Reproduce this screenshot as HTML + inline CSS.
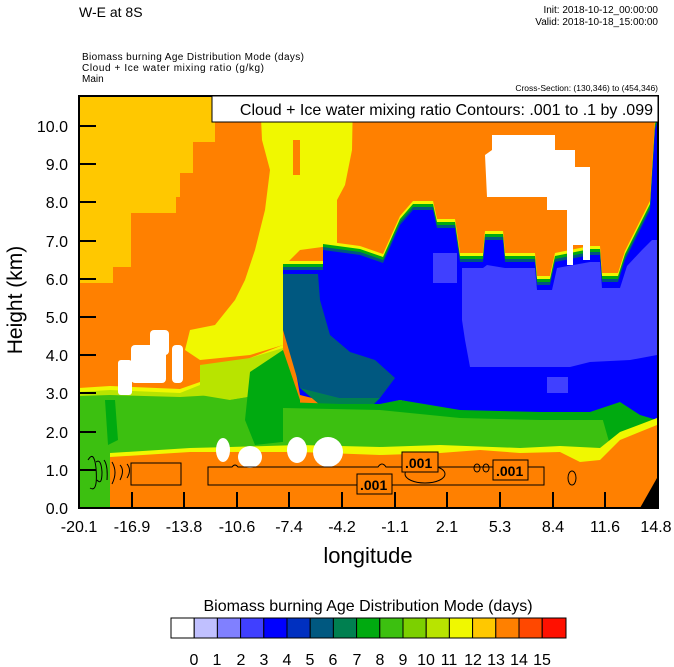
<!DOCTYPE html>
<html><head><meta charset="utf-8"><style>
body{margin:0;background:#fff;width:674px;height:667px;overflow:hidden}
svg{display:block}
text{font-family:"Liberation Sans",sans-serif;fill:#000}
</style></head><body>
<svg width="674" height="667" viewBox="0 0 674 667" xmlns="http://www.w3.org/2000/svg">
<defs><clipPath id="c"><rect x="79" y="96" width="579" height="412"/></clipPath></defs>
<g clip-path="url(#c)">
<rect x="79" y="96" width="579" height="412" fill="#FF8000"/>
<!-- gold top-left -->
<polygon fill="#FFC800" points="79,96 215,96 215,142 193,142 193,173 180,173 180,197 176,197 176,213 131,213 131,267 113,267 113,283 79,283"/>
<!-- yellow diagonal -->
<polygon fill="#F0F800" points="260,96 353,96 352,150 345,185 337,200 337,245 300,250 285,265 283,300 283,345 250,355 200,360 185,350 190,330 215,325 235,300 245,280 255,250 265,210 270,170 262,140"/>
<polygon fill="#FF8000" points="293,140 300,140 300,175 293,175"/>
<polygon fill="#FF8000" points="255,150 262,150 262,170 255,170"/>
<!-- green band (left/mid) with fringe -->
<polygon fill="#F0F800" points="79,388 110,386 180,389 200,382 230,375 245,360 283,345 283,460 79,460"/>
<polygon fill="#B8E400" points="79,392 110,390 180,393 200,385 230,378 250,362 283,350 283,460 79,460"/>
<polygon fill="#3CC010" points="79,396 110,395 180,397 215,395 240,392 255,385 283,380 283,460 79,460"/>
<polygon fill="#B8E400" points="200,365 250,358 283,348 285,380 260,395 230,400 200,395"/>
<polygon fill="#3CC010" points="230,400 260,395 283,385 283,460 230,460"/>
<polygon fill="#00AA10" points="250,372 283,350 300,400 300,440 255,445 245,420"/>
<!-- blue band with fringes -->
<polygon fill="#F0F800" transform="translate(0,-9)" points="283,300 283,270 323,270 323,250 360,255 383,263 400,225 413,210 433,210 437,228 455,228 460,262 483,262 485,240 503,240 505,262 535,262 537,285 550,285 555,262 590,255 600,255 602,282 618,282 625,260 630,250 650,210 655,130 658,120 658,430 640,420 620,405 590,415 540,415 460,412 400,400 380,405 340,405 300,395"/>
<polygon fill="#00AA10" transform="translate(0,-6)" points="283,300 283,270 323,270 323,250 360,255 383,263 400,225 413,210 433,210 437,228 455,228 460,262 483,262 485,240 503,240 505,262 535,262 537,285 550,285 555,262 590,255 600,255 602,282 618,282 625,260 630,250 650,210 655,130 658,120 658,430 640,420 620,405 590,415 540,415 460,412 400,400 380,405 340,405 300,395"/>
<polygon fill="#005880" transform="translate(0,-3)" points="283,300 283,270 323,270 323,250 360,255 383,263 400,225 413,210 433,210 437,228 455,228 460,262 483,262 485,240 503,240 505,262 535,262 537,285 550,285 555,262 590,255 600,255 602,282 618,282 625,260 630,250 650,210 655,130 658,120 658,430 640,420 620,405 590,415 540,415 460,412 400,400 380,405 340,405 300,395"/>
<polygon fill="#0000FF" points="283,300 283,270 323,270 323,250 360,255 383,263 400,225 413,210 433,210 437,228 455,228 460,262 483,262 485,240 503,240 505,262 535,262 537,285 550,285 555,262 590,255 600,255 602,282 618,282 625,260 630,250 650,210 655,130 658,120 658,430 640,420 620,405 590,415 540,415 460,412 400,400 380,405 340,405 300,395"/>
<!-- teal left part -->
<polygon fill="#005880" points="283,274 318,274 320,300 330,335 350,352 375,360 395,378 380,398 340,398 300,388 283,330"/>
<polygon fill="#008050" points="300,388 340,398 380,398 370,408 320,405"/>
<!-- medium blue -->
<polygon fill="#4040FF" points="462,268 483,268 487,265 505,268 535,268 537,290 552,290 557,268 590,262 600,262 602,288 620,288 627,266 642,250 652,240 657,240 657,355 630,360 590,362 570,367 505,367 470,367 465,340 462,320"/>
<polygon fill="#4040FF" points="433,253 457,253 457,283 433,283"/>
<polygon fill="#4040FF" points="547,377 568,377 568,393 547,393"/>
<!-- green under blue -->
<polygon fill="#00AA10" points="283,402 340,404 380,404 400,400 460,410 540,412 590,412 620,402 640,415 657,420 657,460 283,460"/>
<polygon fill="#3CC010" points="283,408 380,410 460,418 540,420 590,420 620,420 650,430 657,440 657,460 283,460"/>
<polygon fill="#00AA10" points="600,410 650,420 650,440 610,445"/>
<!-- left green column -->
<rect x="79" y="400" width="31" height="108" fill="#3CC010"/>
<polygon fill="#00AA10" points="105,400 115,400 118,440 108,445"/>
<!-- bottom orange band with fringe -->
<polygon fill="#F0F800" points="110,453 190,448 230,447 300,445 380,447 440,445 520,448 560,446 600,448 620,432 657,418 657,508 110,508"/>
<polygon fill="#FF8000" points="110,457 190,452 230,452 300,452 380,455 440,453 480,450 520,453 560,452 580,462 600,460 620,440 657,425 657,508 110,508"/>
<polygon fill="#000" points="640,508 657,478 657,508"/>
<!-- whites -->
<g fill="#fff">
<rect x="118" y="360" width="14" height="35" rx="3"/>
<rect x="131" y="345" width="35" height="38" rx="4"/>
<rect x="150" y="330" width="19" height="25" rx="4"/>
<rect x="172" y="345" width="11" height="38" rx="4"/>
<ellipse cx="223" cy="450" rx="7" ry="12"/>
<ellipse cx="250" cy="457" rx="12" ry="11"/>
<ellipse cx="297" cy="450" rx="10" ry="13"/>
<ellipse cx="328" cy="452" rx="15" ry="15"/>
<polygon points="492,135 555,135 555,150 575,150 575,167 590,167 590,260 583,260 583,245 573,245 573,265 567,265 567,210 547,210 547,197 487,197 485,155 492,150"/>
</g>
<!-- contours -->
<g fill="none" stroke="#000" stroke-width="1">
<path d="M208,467 H232 Q235,463 238,467 H378 Q382,461 386,467 H544 V485 H208 Z"/>
<path d="M88,460 q6,-10 8,8 q2,25 -6,20 M96,462 q5,-4 6,10 q0,14 -5,8 M104,460 q4,5 3,20 M112,462 q6,10 0,22 M120,465 q5,5 0,15 M127,464 q5,6 0,14"/>
<rect x="131" y="463" width="50" height="22"/>
<ellipse cx="425" cy="474" rx="20" ry="9"/>
<ellipse cx="477" cy="468" rx="3" ry="4"/><ellipse cx="486" cy="468" rx="3" ry="4"/>
<ellipse cx="572" cy="478" rx="4" ry="7"/>
</g>
<g font-size="14" font-weight="bold">
<rect x="357" y="474" width="35" height="20" fill="#FF8000" stroke="#000"/><text x="360" y="490">.001</text>
<rect x="402" y="452" width="36" height="20" fill="#FF8000" stroke="#000"/><text x="405" y="468">.001</text>
<rect x="493" y="460" width="35" height="20" fill="#FF8000" stroke="#000"/><text x="496" y="476">.001</text>
</g>
</g>
<!-- frame & ticks -->
<rect x="79" y="96" width="579" height="412" fill="none" stroke="#000" stroke-width="2"/>
<g stroke="#000" stroke-width="2">
<line x1="79" y1="126" x2="96" y2="126"/><line x1="79" y1="164" x2="96" y2="164"/><line x1="79" y1="202" x2="96" y2="202"/><line x1="79" y1="241" x2="96" y2="241"/><line x1="79" y1="279" x2="96" y2="279"/><line x1="79" y1="317" x2="96" y2="317"/><line x1="79" y1="355" x2="96" y2="355"/><line x1="79" y1="393" x2="96" y2="393"/><line x1="79" y1="432" x2="96" y2="432"/><line x1="79" y1="470" x2="96" y2="470"/>
<line x1="132" y1="508" x2="132" y2="492"/><line x1="184" y1="508" x2="184" y2="492"/><line x1="237" y1="508" x2="237" y2="492"/><line x1="289" y1="508" x2="289" y2="492"/><line x1="342" y1="508" x2="342" y2="492"/><line x1="395" y1="508" x2="395" y2="492"/><line x1="447" y1="508" x2="447" y2="492"/><line x1="500" y1="508" x2="500" y2="492"/><line x1="553" y1="508" x2="553" y2="492"/><line x1="605" y1="508" x2="605" y2="492"/>
</g>
<g font-size="16" text-anchor="end">
<text x="68" y="132">10.0</text><text x="68" y="170">9.0</text><text x="68" y="208">8.0</text><text x="68" y="247">7.0</text><text x="68" y="285">6.0</text><text x="68" y="323">5.0</text><text x="68" y="361">4.0</text><text x="68" y="399">3.0</text><text x="68" y="438">2.0</text><text x="68" y="476">1.0</text><text x="68" y="514">0.0</text>
</g>
<g font-size="16" text-anchor="middle">
<text x="79" y="532">-20.1</text><text x="132" y="532">-16.9</text><text x="184" y="532">-13.8</text><text x="237" y="532">-10.6</text><text x="289" y="532">-7.4</text><text x="342" y="532">-4.2</text><text x="395" y="532">-1.1</text><text x="447" y="532">2.1</text><text x="500" y="532">5.3</text><text x="553" y="532">8.4</text><text x="605" y="532">11.6</text><text x="656" y="532">14.8</text>
</g>
<text x="368" y="563" font-size="22" text-anchor="middle">longitude</text>
<text transform="translate(22,300) rotate(-90)" font-size="21" text-anchor="middle">Height (km)</text>
<!-- titles -->
<text x="79" y="17" font-size="14">W-E at 8S</text>
<text x="658" y="13" font-size="10" text-anchor="end">Init: 2018-10-12_00:00:00</text>
<text x="658" y="25" font-size="10" text-anchor="end">Valid: 2018-10-18_15:00:00</text>
<text x="82" y="60" font-size="10" textLength="222">Biomass burning Age Distribution Mode    (days)</text>
<text x="82" y="71" font-size="10" textLength="182">Cloud + Ice water mixing ratio    (g/kg)</text>
<text x="82" y="82" font-size="10">Main</text>
<text x="658" y="91" font-size="8.5" text-anchor="end">Cross-Section: (130,346) to (454,346)</text>
<rect x="212" y="96" width="446" height="26" fill="#fff" stroke="#000" stroke-width="1"/>
<text x="653" y="115" font-size="16" text-anchor="end">Cloud + Ice water mixing ratio Contours: .001 to .1 by .099</text>
<!-- colorbar -->
<text x="368" y="611" font-size="16" text-anchor="middle">Biomass burning Age Distribution Mode  (days)</text>
<g stroke="#000" stroke-width="1">
<rect x="171" y="618" width="23.2" height="20" fill="#FFFFFF"/>
<rect x="194.2" y="618" width="23.2" height="20" fill="#C0C0FF"/>
<rect x="217.4" y="618" width="23.2" height="20" fill="#8080FF"/>
<rect x="240.6" y="618" width="23.2" height="20" fill="#4040FF"/>
<rect x="263.8" y="618" width="23.2" height="20" fill="#0000FF"/>
<rect x="287" y="618" width="23.2" height="20" fill="#0030C0"/>
<rect x="310.2" y="618" width="23.2" height="20" fill="#005880"/>
<rect x="333.4" y="618" width="23.2" height="20" fill="#008050"/>
<rect x="356.6" y="618" width="23.2" height="20" fill="#00AA10"/>
<rect x="379.8" y="618" width="23.2" height="20" fill="#3CC010"/>
<rect x="403" y="618" width="23.2" height="20" fill="#7CD000"/>
<rect x="426.2" y="618" width="23.2" height="20" fill="#B8E400"/>
<rect x="449.4" y="618" width="23.2" height="20" fill="#F0F800"/>
<rect x="472.6" y="618" width="23.2" height="20" fill="#FFC800"/>
<rect x="495.8" y="618" width="23.2" height="20" fill="#FF8000"/>
<rect x="519" y="618" width="23.2" height="20" fill="#FF4800"/>
<rect x="542.2" y="618" width="23.8" height="20" fill="#FF1000"/>
</g>
<g font-size="16" text-anchor="middle">
<text x="194" y="665">0</text><text x="217" y="665">1</text><text x="241" y="665">2</text><text x="264" y="665">3</text><text x="287" y="665">4</text><text x="310" y="665">5</text><text x="333" y="665">6</text><text x="357" y="665">7</text><text x="380" y="665">8</text><text x="403" y="665">9</text><text x="426" y="665">10</text><text x="449" y="665">11</text><text x="473" y="665">12</text><text x="496" y="665">13</text><text x="519" y="665">14</text><text x="542" y="665">15</text>
</g>
</svg>
</body></html>
